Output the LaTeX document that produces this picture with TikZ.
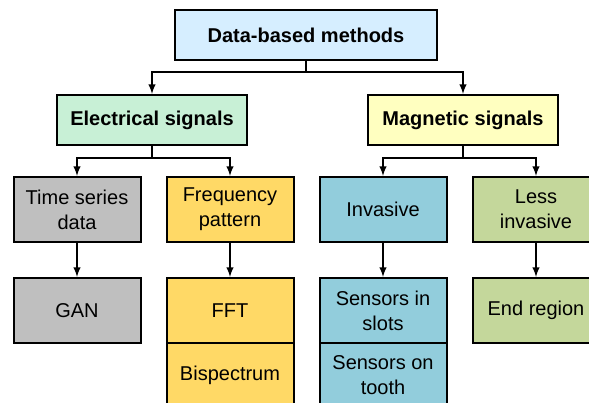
\documentclass[tikz,border=0pt]{standalone}
\usepackage{fontspec}
\setmainfont{Liberation Sans}
\usepackage{tikz}
\usetikzlibrary{arrows,positioning}
\definecolor{skyblue}{RGB}{214,238,255}
\definecolor{mintgreen}{RGB}{200,240,214}
\definecolor{paleyellow}{RGB}{255,255,192}
\definecolor{boxgray}{RGB}{191,191,191}
\definecolor{gold}{RGB}{255,217,102}
\definecolor{teal}{RGB}{146,205,220}
\definecolor{olive}{RGB}{196,215,155}

\begin{document}
\begin{tikzpicture}[x=0.75pt, y=-0.75pt,
	box/.style={draw, line width=1.5pt, align=center, inner sep=0pt,
		font=\fontsize{15}{18.75}\selectfont},
	headbox/.style={box, minimum width=142.5pt, minimum height=37.5pt, font=\fontsize{15}{18.75}\selectfont\bfseries},
	leafbox/.style={box, minimum width=95.25pt, minimum height=48.75pt},
	link/.style={line width=1.5pt, -latex}]

	% frame of the picture
	\useasboundingbox (0,0) rectangle (589,403);
	\clip (0,0) rectangle (589,403);

	% top and second level
	\node[headbox, fill=skyblue, minimum width=196.5pt] (data) at (306,35) {Data-based methods};
	\node[headbox, fill=mintgreen] (elec) at (152,120) {Electrical signals};
	\node[headbox, fill=paleyellow] (magn) at (463,120) {Magnetic signals};

	% third level
	\node[leafbox, fill=boxgray] (series) at (77,209.5) {Time series\\data};
	\node[leafbox, fill=gold] (freq) at (230,209.5) {Frequency\\pattern};
	\node[leafbox, fill=teal] (inv) at (383,209.5) {Invasive};
	\node[leafbox, fill=olive] (lessinv) at (536,209.5) {Less\\invasive};

	% methods (stacked boxes share their border)
	\node[leafbox, fill=boxgray] (gan) at (77,310.5) {GAN};
	\node[leafbox, fill=gold] (fft) at (230,310.5) {FFT};
	\node[leafbox, fill=gold, below=-1.5pt of fft] (bisp) {Bispectrum};
	\node[leafbox, fill=teal] (slots) at (383,310.5) {Sensors in\\slots};
	\node[leafbox, fill=teal, below=-1.5pt of slots] (tooth) {Sensors on\\tooth};
	\node[leafbox, fill=olive] (endreg) at (536,310.5) {End region};

	% branch points
	\coordinate (split0) at (306,72);
	\coordinate (split1) at (152,158);
	\coordinate (split2) at (463,158);

	% connectors
	\draw[line width=1.5pt] (data.south) -- (split0);
	\draw[link] (split0) -| (elec.north);
	\draw[link] (split0) -| (magn.north);
	\draw[line width=1.5pt] (elec.south) -- (split1);
	\draw[link] (split1) -| (series.north);
	\draw[link] (split1) -| (freq.north);
	\draw[line width=1.5pt] (magn.south) -- (split2);
	\draw[link] (split2) -| (inv.north);
	\draw[link] (split2) -| (lessinv.north);
	\draw[link] (series) -- (gan);
	\draw[link] (freq) -- (fft);
	\draw[link] (inv) -- (slots);
	\draw[link] (lessinv) -- (endreg);

\end{tikzpicture}
\end{document}
